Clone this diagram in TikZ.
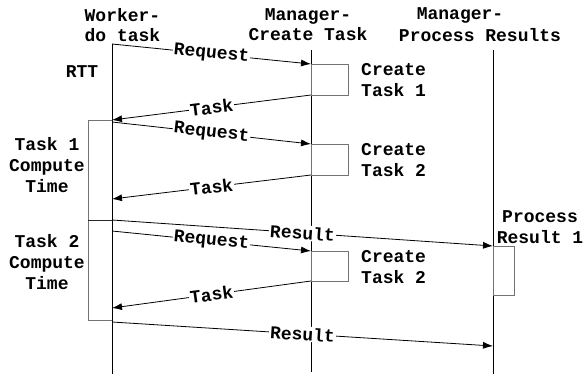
\documentclass[tikz,border=0pt]{standalone}
\usepackage{fontspec}
\setmainfont{Liberation Mono}
\usetikzlibrary{arrows.meta}
\begin{document}
\begin{tikzpicture}[x=1pt,y=-1pt,
  txt/.style={font=\fontsize{18}{21}\selectfont\bfseries, inner sep=0pt, align=center},
  lifeline/.style={line width=0.9pt, black},
  actbox/.style={line width=0.9pt, draw=black!55},
  msg/.style={line width=0.8pt, -{Latex[length=10pt,width=7pt]}},
  lbl/.style={font=\fontsize{18}{21}\selectfont\bfseries, fill=white, inner sep=1pt, sloped, midway}
]
\useasboundingbox (0,0) rectangle (585,374);

% headers
\node[txt, font=\fontsize{18}{20}\selectfont\bfseries] (hw) at (122.5,25) {Worker-\\do task};
\node[txt, font=\fontsize{18}{20}\selectfont\bfseries] (hc) at (308,25) {Manager-\\Create Task};
\node[txt] (hp1) at (460,15) {Manager-};
\node[txt] (hp2) at (480,35) {Process Results};

% lifeline coordinates
\coordinate (w0) at (112,44);
\coordinate (wE) at (112,374);
\coordinate (c0) at (311,50);
\coordinate (cE) at (311,372);
\coordinate (p0) at (493,50);
\coordinate (pE) at (493,374);

\draw[lifeline] (w0) -- (wE);
\draw[lifeline] (c0) -- (cE);
\draw[lifeline] (p0) -- (pE);

% activation boxes
\draw[actbox] (311,64) rectangle (348,95);
\draw[actbox] (311,144) rectangle (348,175);
\draw[actbox] (311,251) rectangle (348,281);
\draw[actbox] (493,246) rectangle (514,295);

% compute time brackets
\draw[actbox] (112,120) -- (88,120) -- (88,220) -- (112,220);
\draw[actbox] (88,220) -- (88,320) -- (112,320);
\draw[line width=0.9pt, black!85] (88,220) -- (112,220);

% side texts
\node[txt] (rtt) at (82,72) {RTT};
\node[txt, anchor=west, align=left] (ct1) at (361,80.5) {Create\\Task 1};
\node[txt, anchor=west, align=left] (ct2) at (361,160) {Create\\Task 2};
\node[txt, anchor=west, align=left] (ct3) at (361,267) {Create\\Task 2};
\node[txt] (t1) at (47,165) {Task 1\\Compute\\Time};
\node[txt] (t2) at (47,262) {Task 2\\Compute\\Time};
\node[txt] (pr) at (540,227.5) {Process\\Result 1};

% message coordinates
\coordinate (rq1a) at (112,44);  \coordinate (rq1b) at (311,64);
\coordinate (tk1a) at (311,95);  \coordinate (tk1b) at (112,120);
\coordinate (rq2a) at (112,122); \coordinate (rq2b) at (311,144);
\coordinate (tk2a) at (311,175); \coordinate (tk2b) at (112,199);
\coordinate (rs1a) at (112,220); \coordinate (rs1b) at (493,246);
\coordinate (rq3a) at (112,231); \coordinate (rq3b) at (311,251);
\coordinate (tk3a) at (311,281); \coordinate (tk3b) at (112,308);
\coordinate (rs2a) at (112,322); \coordinate (rs2b) at (493,346);

\draw[msg] (rq1a) -- node[lbl] {Request} (rq1b);
\draw[msg] (tk1a) -- node[lbl] {Task} (tk1b);
\draw[msg] (rq2a) -- node[lbl] {Request} (rq2b);
\draw[msg] (tk2a) -- node[lbl] {Task} (tk2b);
\draw[msg] (rs1a) -- node[lbl] {Result} (rs1b);
\draw[msg] (rq3a) -- node[lbl] {Request} (rq3b);
\draw[msg] (tk3a) -- node[lbl] {Task} (tk3b);
\draw[msg] (rs2a) -- node[lbl] {Result} (rs2b);
\end{tikzpicture}
\end{document}
